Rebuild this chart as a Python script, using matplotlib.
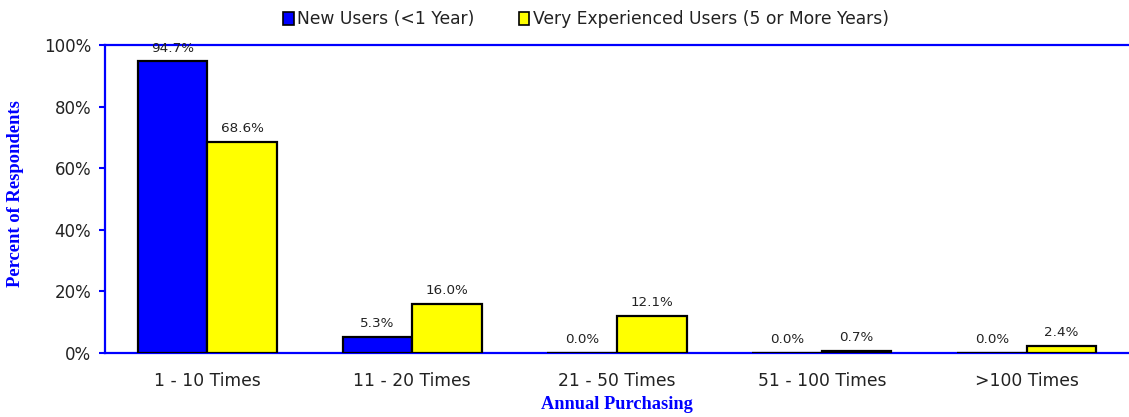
import matplotlib
matplotlib.use("Agg")
import matplotlib.pyplot as plt
import numpy as np
from matplotlib.patches import Patch

categories = ["1 - 10 Times", "11 - 20 Times", "21 - 50 Times", "51 - 100 Times", ">100 Times"]
new_users = [94.7, 5.3, 0.0, 0.0, 0.0]
experienced = [68.6, 16.0, 12.1, 0.7, 2.4]
series_names = ["New Users (<1 Year)", "Very Experienced Users (5 or More Years)"]
yticks = [0, 20, 40, 60, 80, 100]

BLUE = "#0000FF"
YELLOW = "#FFFF00"
TXT = "#222222"

fig = plt.figure(figsize=(11.29, 4.17), dpi=100)
ax = fig.add_axes([105/1129, 1-353/417, 1-105/1129, (353-45)/417])

x = np.arange(len(categories))
w = 0.34
b1 = ax.bar(x - w/2, new_users, w, color=BLUE, edgecolor="black", linewidth=1.6, zorder=3)
b2 = ax.bar(x + w/2, experienced, w, color=YELLOW, edgecolor="black", linewidth=1.6, zorder=3)

for rect, v in list(zip(b1, new_users)) + list(zip(b2, experienced)):
    ax.text(rect.get_x() + rect.get_width()/2, v + 2.2, f"{v:.1f}%",
            ha="center", va="bottom", fontsize=9.7, color=TXT, zorder=4)

ax.set_xlim(-0.5, len(categories) - 0.5)
ax.set_ylim(0, 100)
ax.set_yticks(yticks)
ax.set_yticklabels([f"{t}%" for t in yticks], fontsize=12, color=TXT)
ax.set_xticks(x)
ax.set_xticklabels(categories, fontsize=12.3, color=TXT)
ax.tick_params(axis="x", length=0, pad=14)
ax.tick_params(axis="y", length=4, width=1.5, color=BLUE, pad=6)

for s in ["left", "bottom", "top"]:
    ax.spines[s].set_color(BLUE)
    ax.spines[s].set_linewidth(1.6)
ax.spines["right"].set_visible(False)

ax.set_xlabel("Annual Purchasing", fontsize=13.2, fontweight="bold", color=BLUE,
              family="Liberation Serif", labelpad=4)
fig.text(16/1129, 1-194/417, "Percent of Respondents", rotation=90, fontsize=13.4,
         fontweight="bold", color=BLUE, family="Liberation Serif",
         ha="center", va="center")

handles = [Patch(facecolor=BLUE, edgecolor="black", linewidth=1.2),
           Patch(facecolor=YELLOW, edgecolor="black", linewidth=1.2)]
fig.legend(handles, series_names, loc="center", bbox_to_anchor=(586/1129, 1-19/417),
           ncol=2, frameon=False, fontsize=12.3, handlelength=0.6, handleheight=0.8,
           handletextpad=0.2, columnspacing=2.6, labelcolor=TXT)

fig.savefig("out.png", dpi=100)
